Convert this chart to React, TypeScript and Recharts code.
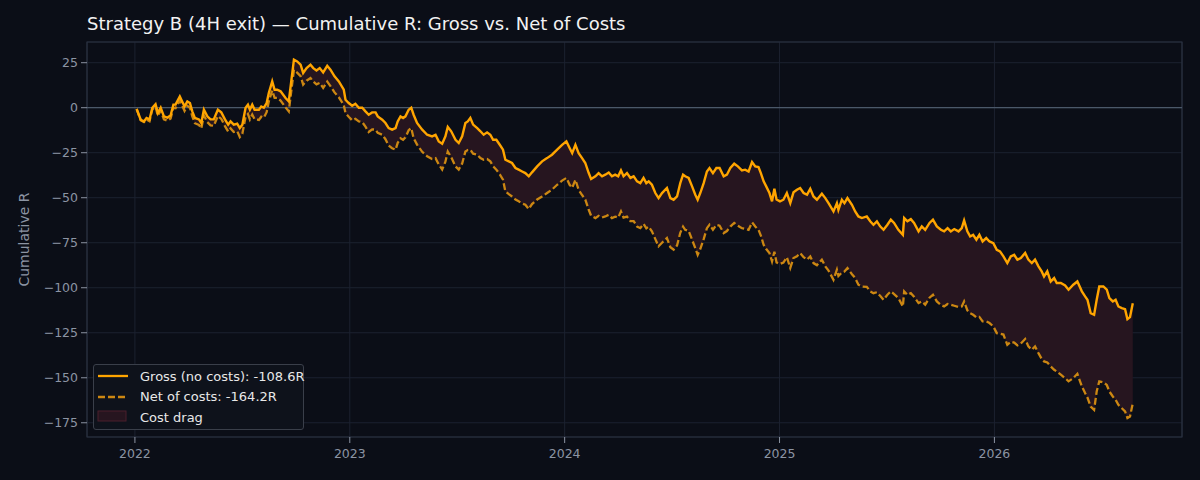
import React from "react";
import {
  ComposedChart,
  Line,
  Area,
  XAxis,
  YAxis,
  CartesianGrid,
  ReferenceLine,
  ReferenceArea,
} from "recharts";

// fractional years
const DATES = [
  2022.008, 2022.027, 2022.042, 2022.054, 2022.068, 2022.081, 2022.096, 2022.107, 2022.12, 2022.135,
  2022.151, 2022.166, 2022.179, 2022.189, 2022.209, 2022.22, 2022.231, 2022.244, 2022.256, 2022.267,
  2022.279, 2022.298, 2022.309, 2022.321, 2022.337, 2022.352, 2022.367, 2022.386, 2022.402, 2022.419,
  2022.434, 2022.445, 2022.46, 2022.476, 2022.488, 2022.5, 2022.515, 2022.526, 2022.535, 2022.546,
  2022.557, 2022.577, 2022.588, 2022.6, 2022.613, 2022.623, 2022.639, 2022.65, 2022.662, 2022.678,
  2022.69, 2022.701, 2022.716, 2022.74, 2022.755, 2022.771, 2022.783, 2022.799, 2022.817, 2022.83,
  2022.845, 2022.86, 2022.876, 2022.895, 2022.91, 2022.929, 2022.949, 2022.972, 2022.98, 2022.995,
  2023.011, 2023.026, 2023.042, 2023.058, 2023.073, 2023.088, 2023.104, 2023.12, 2023.13, 2023.151,
  2023.166, 2023.181, 2023.197, 2023.213, 2023.223, 2023.236, 2023.248, 2023.259, 2023.274, 2023.286,
  2023.297, 2023.313, 2023.337, 2023.36, 2023.383, 2023.399, 2023.414, 2023.43, 2023.445, 2023.456,
  2023.472, 2023.492, 2023.507, 2023.523, 2023.538, 2023.549, 2023.561, 2023.574, 2023.593, 2023.608,
  2023.623, 2023.639, 2023.654, 2023.667, 2023.682, 2023.698, 2023.713, 2023.724, 2023.74, 2023.755,
  2023.771, 2023.786, 2023.802, 2023.817, 2023.833, 2023.848, 2023.872, 2023.895, 2023.918, 2023.941,
  2023.965, 2023.988, 2024.008, 2024.023, 2024.035, 2024.05, 2024.065, 2024.081, 2024.096, 2024.112,
  2024.123, 2024.143, 2024.158, 2024.174, 2024.189, 2024.205, 2024.22, 2024.235, 2024.249, 2024.262,
  2024.274, 2024.29, 2024.306, 2024.321, 2024.337, 2024.352, 2024.367, 2024.38, 2024.391, 2024.406,
  2024.422, 2024.437, 2024.453, 2024.476, 2024.492, 2024.507, 2024.523, 2024.538, 2024.551, 2024.561,
  2024.577, 2024.593, 2024.608, 2024.619, 2024.631, 2024.647, 2024.662, 2024.674, 2024.69, 2024.706,
  2024.721, 2024.74, 2024.755, 2024.771, 2024.789, 2024.806, 2024.825, 2024.84, 2024.856, 2024.872,
  2024.887, 2024.902, 2024.913, 2024.926, 2024.938, 2024.953, 2024.965, 2024.976, 2024.986, 2025.002,
  2025.018, 2025.034, 2025.05, 2025.065, 2025.081, 2025.096, 2025.112, 2025.128, 2025.143, 2025.158,
  2025.174, 2025.197, 2025.213, 2025.228, 2025.251, 2025.267, 2025.274, 2025.29, 2025.302, 2025.316,
  2025.337, 2025.352, 2025.367, 2025.383, 2025.406, 2025.422, 2025.437, 2025.453, 2025.468, 2025.484,
  2025.502, 2025.518, 2025.533, 2025.553, 2025.574, 2025.58, 2025.595, 2025.611, 2025.626, 2025.647,
  2025.662, 2025.678, 2025.698, 2025.714, 2025.732, 2025.751, 2025.766, 2025.782, 2025.797, 2025.813,
  2025.833, 2025.848, 2025.859, 2025.874, 2025.887, 2025.901, 2025.916, 2025.93, 2025.945, 2025.962,
  2025.977, 2025.995, 2026.011, 2026.026, 2026.042, 2026.06, 2026.076, 2026.092, 2026.107, 2026.123,
  2026.143, 2026.158, 2026.174, 2026.189, 2026.205, 2026.22, 2026.231, 2026.246, 2026.262, 2026.278,
  2026.29, 2026.309, 2026.329, 2026.345, 2026.367, 2026.386, 2026.407, 2026.422, 2026.433, 2026.448,
  2026.464, 2026.476, 2026.488, 2026.507, 2026.523, 2026.535, 2026.551, 2026.564, 2026.577, 2026.593,
  2026.608, 2026.619, 2026.631, 2026.644,
];

const GROSS = [
  -0.7, -6.7, -7.6, -5.7, -6.5, 0, 2, -3, 0, -4.8,
  -5.5, -4.3, 1.7, 1.7, 6.3, 3.5, 0.7, 3.5, 2.6, -2,
  -5.7, -6.5, -8.5, -1.1, -4.8, -6.5, -6.5, -1.1, -2.6, -6.5,
  -9.4, -7.6, -9.4, -8.9, -11.3, -9.4, 0, 1.7, -1.1, 1.7,
  -1.1, -1.1, 0.7, 0, 2.6, 8.1, 14.6, 10, 10, 9.1,
  7.2, 5.4, 3.5, 26.7, 25.7, 23.9, 19.3, 22, 23.9, 22,
  20.7, 22, 19.6, 23.3, 21.1, 17.4, 14.6, 10, 4.4, 2.6,
  1.1, 2.2, 0, 0, -2, -3.9, -2.6, -2.6, -4.8, -6.7,
  -8.5, -11.3, -12.2, -11.3, -7.6, -4.8, -5.7, -4.8, -1.1, 0,
  -3.9, -8.5, -12.2, -15, -15.9, -15, -18.7, -20, -15.9, -10.7,
  -13.1, -17.8, -19.6, -15.9, -8.5, -7.6, -5.7, -9.4, -11.3, -13.1,
  -15, -13.7, -15, -17.8, -17.8, -20.6, -23.3, -28.9, -29.8, -30.7,
  -33.5, -34.4, -35.4, -36.3, -38.1, -35.9, -32.6, -29.8, -28, -26.1,
  -23.3, -20.6, -18.7, -22.4, -25.2, -20.6, -25.2, -28, -30.7, -36.3,
  -39.6, -38.1, -36.3, -38.1, -37.2, -36, -38.1, -37.2, -38.1, -34.8,
  -38.1, -36.3, -39, -38.1, -40.9, -41.9, -39, -41.9, -40.9, -42.8,
  -47.4, -50.2, -47.4, -44.6, -50.2, -51.1, -49.3, -41.9, -37.2, -38.1,
  -39, -43.7, -48.3, -51.1, -47.4, -41.9, -35.4, -33.5, -36.3, -33.5,
  -33.5, -38.1, -37.2, -33.5, -31.1, -32.6, -34.8, -34.4, -35.4, -30.2,
  -32.6, -33, -36.3, -40.9, -43.7, -47.4, -52, -45, -51, -52,
  -51.1, -47.4, -53, -47, -45.6, -44.6, -47.4, -48.3, -45, -49.3,
  -51.1, -47.8, -50.2, -53, -57.6, -53, -56.7, -51.1, -53, -50.2,
  -53.9, -57.6, -60.4, -61.3, -60.4, -63.1, -65, -63.1, -65.9, -67.8,
  -65, -62.2, -64, -67.8, -70.6, -61.3, -63.1, -61.9, -64, -68.7,
  -65.9, -67.8, -64, -62.2, -65.9, -67.8, -68.7, -66.9, -68.7, -67.4,
  -68.7, -66.9, -62.6, -68.7, -71.5, -70.6, -73.3, -70.6, -74.3, -72.4,
  -74.3, -75.2, -78.9, -79.8, -82.6, -86.3, -82.6, -81.7, -84.4, -83.5,
  -80.7, -84.4, -86.3, -84.4, -88.1, -90.9, -93.7, -90.9, -96.5, -94.6,
  -97.4, -97.4, -98.7, -101.1, -98.3, -96.5, -102, -104.8, -106.7, -114.1,
  -115, -106.7, -99.3, -99.3, -101.1, -105.7, -107.6, -106.7, -110.4, -111.3,
  -111.9, -117.4, -116.3, -108.6,
];

const NET = [
  -0.7, -7, -8, -6.5, -7.5, -1, 0.5, -4.5, -1.5, -6.5,
  -7.2, -6, 0, -0.3, 4, 1.2, -1.8, 1, 0, -4.8,
  -8.6, -9.5, -11.5, -4.3, -8, -9.8, -10, -4.6, -6.2, -10.2,
  -13.2, -11.5, -13.5, -13, -16.3, -14.5, -5, -3.5, -6.5, -3.8,
  -6.5, -6.8, -5, -5.5, -2.5, 3.5, 9.5, 5.5, 5.5, 4,
  2, 0.2, -2, 21, 19.5, 17.5, 12.8, 15, 16.5, 14.5,
  13, 13.8, 11, 14.5, 12, 8.5, 5.8, 1.5, -3, -5,
  -7, -6.2, -7.6, -8, -10.5, -13.5, -12, -12.2, -14, -15,
  -17.5, -21, -22.5, -23.3, -19.5, -17, -17.8, -16.5, -12.5, -11.3,
  -16.9, -20.5, -24.5, -27, -28.5, -28, -31.5, -34.4, -30, -24.3,
  -27.5, -32.6, -34.4, -31, -24.3, -23.5, -23.3, -25.5, -26.1, -28,
  -28.9, -28.5, -29.8, -32.5, -34.4, -37, -40, -46.5, -48, -49.3,
  -51, -52, -53.2, -53.9, -56.3, -53.5, -51, -49.3, -47.4, -45.5,
  -42.8, -40.5, -39, -42.8, -44.5, -40, -45.6, -48.5, -51, -56.7,
  -60, -61.3, -60, -61, -60.4, -59.5, -61.3, -60.5, -61, -57.6,
  -61, -60.5, -63, -63, -66, -66.9, -64.5, -67, -66, -68.7,
  -73, -77, -75, -72.4, -77.5, -78.9, -76.5, -69.5, -66, -67.8,
  -68.5, -73.3, -78, -81.7, -78.5, -73, -66.9, -65, -67.8, -65,
  -65.5, -69.6, -68.5, -66, -64, -65.5, -66.9, -67.2, -67.8, -63.7,
  -66, -67.8, -71, -76.1, -78.5, -80.7, -85.4, -80, -86, -86.8,
  -86, -83, -89, -83.5, -82.5, -80.7, -83, -84.4, -82.6, -86.3,
  -87.5, -84.4, -88.1, -90.5, -95.6, -90, -93.5, -91.5, -91, -89.1,
  -92.5, -94.6, -98.3, -99.3, -99.5, -102, -103, -102.5, -104.5, -106.7,
  -103.9, -102, -103.5, -105.7, -110.4, -102, -103.9, -103, -105, -108.5,
  -107.6, -109.4, -105.5, -103.9, -107.6, -109.5, -110.4, -109, -109.4, -110,
  -110.7, -110.4, -107.6, -112.5, -114.1, -115, -116.5, -116.2, -118.7, -118.7,
  -119.6, -121.5, -125.2, -125.5, -126, -131.7, -130, -130.5, -132, -131,
  -128.5, -132.6, -134.4, -132.6, -136.3, -139.5, -140.9, -141.5, -143.7, -145.6,
  -146.5, -148.3, -150.2, -152, -150.2, -147.8, -154.8, -158.5, -161, -166,
  -167.8, -157.6, -152, -152.5, -154, -157.6, -160.4, -162.2, -165, -166.9,
  -168.7, -172.4, -171.5, -164.2,
];

const X_TICKS = [2022, 2023, 2024, 2025, 2026];
const Y_TICKS = [25, 0, -25, -50, -75, -100, -125, -150, -175];
const X_DOMAIN = [2021.777, 2026.873];
const Y_DOMAIN = [-182.9, 36.5];

const GROSS_LABEL = "Gross (no costs): -108.6R";
const NET_LABEL = "Net of costs: -164.2R";
const DRAG_LABEL = "Cost drag";

const BG = "#0b0e17";
const GRID = "#1c2230";
const SPINE = "#2a3140";
const TICK_TEXT = "#8c94a3";
const GROSS_COLOR = "#ffa500";
const NET_COLOR = "#cc8712";
const DRAG_COLOR = "#26151f";
const FONT = "'DejaVu Sans', sans-serif";

const rows = DATES.map((t, i) => ({
  t,
  gross: GROSS[i],
  net: NET[i],
  drag: [NET[i], GROSS[i]],
}));

function LegendBox() {
  const item = (swatch: React.ReactNode, label: string) => (
    <div style={{ display: "flex", alignItems: "center", height: 20.5 }}>
      <svg width={36} height={14} style={{ marginRight: 7, flex: "none" }}>
        {swatch}
      </svg>
      <span>{label}</span>
    </div>
  );
  return (
    <div
      style={{
        position: "absolute",
        left: 93,
        top: 364,
        boxSizing: "border-box",
        width: 211,
        height: 66,
        background: "#0e121b",
        border: "1px solid #3a3f4a",
        borderRadius: 3,
        padding: "1px 0 0 3px",
        color: "#e8e8e8",
        fontFamily: FONT,
        fontSize: 13,
        whiteSpace: "nowrap",
      }}
    >
      {item(<line x1={1} x2={31} y1={7} y2={7} stroke={GROSS_COLOR} strokeWidth={2.3} />, GROSS_LABEL)}
      {item(
        <line x1={1} x2={31} y1={7} y2={7} stroke={NET_COLOR} strokeWidth={2.3} strokeDasharray="7 3" />,
        NET_LABEL
      )}
      {item(
        <rect x={1} y={1} width={28} height={10} fill={DRAG_COLOR} stroke="#4a1f2c" strokeWidth={1} />,
        DRAG_LABEL
      )}
    </div>
  );
}

export default function App() {
  return (
    <div
      style={{
        position: "absolute",
        left: 0,
        top: 0,
        width: 1200,
        height: 480,
        background: BG,
        fontFamily: FONT,
      }}
    >
      <div
        style={{
          position: "absolute",
          left: 87,
          top: 13,
          color: "#f2f2f2",
          fontSize: 18,
          whiteSpace: "nowrap",
        }}
      >
        Strategy B (4H exit) — Cumulative R: Gross vs. Net of Costs
      </div>
      <ComposedChart
        width={1200}
        height={480}
        data={rows}
        margin={{ top: 42, right: 18, bottom: 13, left: 0 }}
      >
        <CartesianGrid stroke={GRID} strokeWidth={1} />
        <XAxis
          dataKey="t"
          type="number"
          domain={X_DOMAIN}
          ticks={X_TICKS}
          allowDataOverflow
          height={30}
          tickSize={6}
          tickMargin={6}
          axisLine={false}
          tickLine={{ stroke: TICK_TEXT }}
          tick={{ fill: TICK_TEXT, fontSize: 12.5, fontFamily: FONT }}
          tickFormatter={(v) => String(v)}
        />
        <YAxis
          type="number"
          domain={Y_DOMAIN}
          ticks={Y_TICKS}
          allowDataOverflow
          width={87}
          tickSize={6}
          tickMargin={3}
          axisLine={false}
          tickLine={{ stroke: TICK_TEXT }}
          tick={{ fill: TICK_TEXT, fontSize: 12.5, fontFamily: FONT }}
          tickFormatter={(v) => (v < 0 ? `\u2212${Math.abs(v)}` : String(v))}
          label={{
            value: "Cumulative R",
            angle: -90,
            position: "insideLeft",
            offset: 24,
            fill: TICK_TEXT,
            fontSize: 14,
            fontFamily: FONT,
            style: { textAnchor: "middle" },
          }}
        />
        <ReferenceLine y={0} stroke="#4b5869" strokeWidth={1.3} />
        <Area
          dataKey="drag"
          type="linear"
          stroke="none"
          fill={DRAG_COLOR}
          fillOpacity={1}
          isAnimationActive={false}
        />
        <Line
          dataKey="net"
          type="linear"
          stroke={NET_COLOR}
          strokeWidth={2.3}
          strokeDasharray="7 3"
          dot={false}
          isAnimationActive={false}
        />
        <Line
          dataKey="gross"
          type="linear"
          stroke={GROSS_COLOR}
          strokeWidth={2.4}
          dot={false}
          isAnimationActive={false}
        />
        <ReferenceArea
          x1={X_DOMAIN[0]}
          x2={X_DOMAIN[1]}
          y1={Y_DOMAIN[0]}
          y2={Y_DOMAIN[1]}
          fill="none"
          stroke={SPINE}
          strokeWidth={1.2}
          ifOverflow="visible"
        />
      </ComposedChart>
      <LegendBox />
    </div>
  );
}
